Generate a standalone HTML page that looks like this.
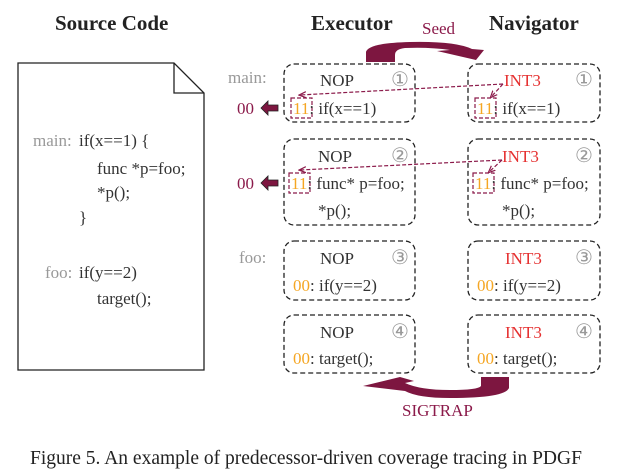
<!DOCTYPE html>
<html><head><meta charset="utf-8"><style>
html,body{margin:0;padding:0;background:#fff;}
svg{display:block;}
text{font-family:"Liberation Serif",serif;}
</style></head><body>
<svg width="620" height="469" viewBox="0 0 620 469" xmlns="http://www.w3.org/2000/svg">
<defs>
<marker id="ah" markerWidth="8" markerHeight="8" refX="6" refY="4" orient="auto" markerUnits="userSpaceOnUse">
<path d="M0,1 L7,4 L0,7" fill="none" stroke="#8b1a4a" stroke-width="1.2"/>
</marker>
</defs>
<g font-size="21" font-weight="bold" fill="#222">
<text x="55" y="30">Source Code</text>
<text x="311" y="30">Executor</text>
<text x="489" y="30">Navigator</text>
</g>
<path d="M18,63 L174,63 L204,93 L204,370 L18,370 Z" fill="#fff" stroke="#222" stroke-width="1.3"/>
<path d="M174,63 L174,93 L204,93" fill="none" stroke="#222" stroke-width="1.3"/>
<g font-size="17" fill="#333">
<text x="33" y="146" fill="#999">main:</text>
<text x="79" y="146">if(x==1) {</text>
<text x="97" y="174">func *p=foo;</text>
<text x="97" y="198">*p();</text>
<text x="79" y="223">}</text>
<text x="45" y="278" fill="#999">foo:</text>
<text x="79" y="278">if(y==2)</text>
<text x="97" y="304">target();</text>
</g>
<path d="M366,62 L366,52 Q368,43 410,42 Q455,41 472,49 L484,50 L476,60 L437,51 L450,50 Q430,47 405,48 Q395,49 395,55 L395,62 Z" fill="#7d1640"/>
<text x="422" y="34" font-size="17" fill="#8b1a4a">Seed</text>
<path d="M481,377 L509,377 L509,388 Q505,398 450,398 Q418,398 405,391 L363,386 L400,377 L414,381 L405,383 Q420,390 450,390 Q478,390 481,386 Z" fill="#7d1640"/>
<text x="402" y="416" font-size="17" fill="#8b1a4a">SIGTRAP</text>
<g fill="none" stroke="#222" stroke-width="1.3" stroke-dasharray="5,3">
<rect x="284" y="64" width="131" height="58" rx="10"/>
<rect x="284" y="139" width="131" height="86" rx="10"/>
<rect x="284" y="241" width="131" height="59" rx="10"/>
<rect x="284" y="315" width="131" height="58" rx="10"/>
<rect x="468" y="64" width="132" height="58" rx="10"/>
<rect x="468" y="139" width="132" height="86" rx="10"/>
<rect x="468" y="241" width="132" height="59" rx="10"/>
<rect x="468" y="315" width="132" height="58" rx="10"/>
</g>
<g fill="none" stroke="#8b1a4a" stroke-width="1.2" stroke-dasharray="4,2">
<rect x="291" y="98" width="21" height="20"/>
<rect x="475" y="98" width="21" height="20"/>
<rect x="289" y="173" width="21" height="20"/>
<rect x="473" y="173" width="21" height="20"/>
<path d="M503,84 L300,95" marker-end="url(#ah)"/>
<path d="M503,84 L491,97" marker-end="url(#ah)"/>
<path d="M502,160 L300,170" marker-end="url(#ah)"/>
<path d="M502,160 L489,172" marker-end="url(#ah)"/>
</g>
<g font-size="17" fill="#333">
<text x="228" y="83" fill="#999">main:</text>
<text x="239" y="263" fill="#999">foo:</text>
<text x="237" y="114" fill="#8b1a4a">00</text>
<text x="237" y="189" fill="#8b1a4a">00</text>
<text x="320" y="86">NOP</text>
<text x="318" y="162">NOP</text>
<text x="320" y="264">NOP</text>
<text x="320" y="338">NOP</text>
<text x="504" y="86" fill="#e53030">INT3</text>
<text x="502" y="162" fill="#e53030">INT3</text>
<text x="505" y="264" fill="#e53030">INT3</text>
<text x="505" y="338" fill="#e53030">INT3</text>
<g fill="#999" font-size="20" font-family="DejaVu Sans,sans-serif">
<text x="391" y="86">①</text><text x="391" y="162">②</text><text x="391" y="264">③</text><text x="391" y="338">④</text>
<text x="575" y="86">①</text><text x="575" y="162">②</text><text x="575" y="264">③</text><text x="575" y="338">④</text>
</g>
<text x="293" y="114"><tspan fill="#f5a623">11</tspan>: if(x==1)</text>
<text x="477" y="114"><tspan fill="#f5a623">11</tspan>: if(x==1)</text>
<text x="291" y="189"><tspan fill="#f5a623">11</tspan>: func* p=foo;</text>
<text x="475" y="189"><tspan fill="#f5a623">11</tspan>: func* p=foo;</text>
<text x="318" y="216">*p();</text>
<text x="502" y="216">*p();</text>
<text x="293" y="291"><tspan fill="#f5a623">00</tspan>: if(y==2)</text>
<text x="477" y="291"><tspan fill="#f5a623">00</tspan>: if(y==2)</text>
<text x="293" y="364"><tspan fill="#f5a623">00</tspan>: target();</text>
<text x="477" y="364"><tspan fill="#f5a623">00</tspan>: target();</text>
</g>
<path d="M261,108 L268,101 L268,105 L278,105 L278,111 L268,111 L268,115 Z" fill="#7d1640" stroke="#222" stroke-width="0.8"/>
<path d="M261,183 L268,176 L268,180 L278,180 L278,186 L268,186 L268,190 Z" fill="#7d1640" stroke="#222" stroke-width="0.8"/>
<text x="30" y="464" font-size="19.5" fill="#222">Figure 5. An example of predecessor-driven coverage tracing in PDGF</text>
</svg>
</body></html>
